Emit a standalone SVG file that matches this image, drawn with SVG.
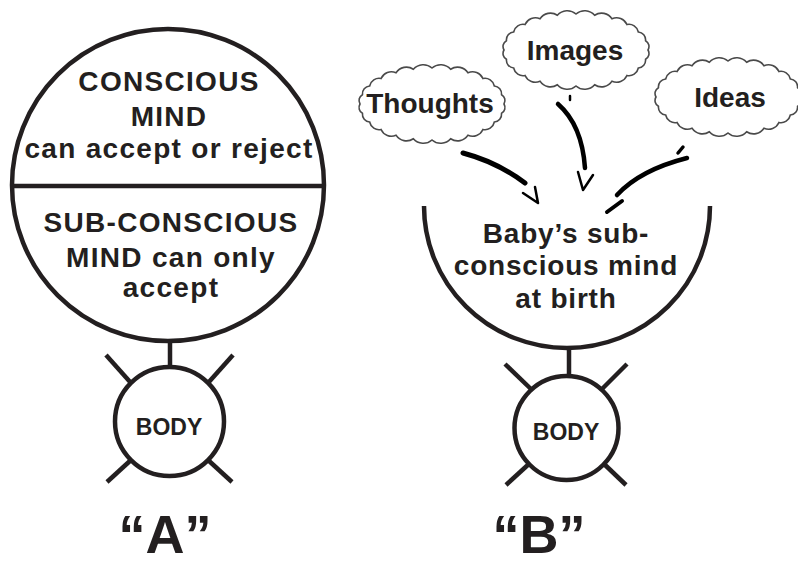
<svg xmlns="http://www.w3.org/2000/svg" width="798" height="565" viewBox="0 0 798 565">
<style>
.ln{fill:none;stroke:#231f20;stroke-width:4.5}
.t{font-family:"Liberation Sans",Arial,sans-serif;font-weight:bold;fill:#231f20;text-anchor:middle}
.mind{font-size:28px;letter-spacing:1.3px}
.baby{font-size:28px;letter-spacing:0.8px}
.cl{font-size:28px}
.body{font-size:23px}
.lab{font-size:54px}
.cloud{fill:#fff;stroke:#4a4a4a;stroke-width:1.6}
.br{fill:none;stroke:#000;stroke-linecap:round;stroke-linejoin:round}
</style>
<defs>
<path id="cloudShape" d="M72,0 A6.7,6.7 0 0 1 69.55,9.32 A7.9,7.9 0 0 1 62.35,18 A9.6,9.6 0 0 1 50.91,25.46 A11.2,11.2 0 0 1 36,31.18 A12.4,12.4 0 0 1 18.63,34.77 A13.1,13.1 0 0 1 0,36 A13.1,13.1 0 0 1 -18.63,34.77 A12.4,12.4 0 0 1 -36,31.18 A11.2,11.2 0 0 1 -50.91,25.46 A9.6,9.6 0 0 1 -62.35,18 A7.9,7.9 0 0 1 -69.55,9.32 A6.7,6.7 0 0 1 -72,0 A6.7,6.7 0 0 1 -69.55,-9.32 A7.9,7.9 0 0 1 -62.35,-18 A9.6,9.6 0 0 1 -50.91,-25.46 A11.2,11.2 0 0 1 -36,-31.18 A12.4,12.4 0 0 1 -18.63,-34.77 A13.1,13.1 0 0 1 0,-36 A13.1,13.1 0 0 1 18.63,-34.77 A12.4,12.4 0 0 1 36,-31.18 A11.2,11.2 0 0 1 50.91,-25.46 A9.6,9.6 0 0 1 62.35,-18 A7.9,7.9 0 0 1 69.55,-9.32 A6.7,6.7 0 0 1 72,0 Z"/>
</defs>
<rect width="798" height="565" fill="#fff"/>

<g id="mindA">
<circle class="ln" cx="168" cy="185" r="156"/>
<line class="ln" x1="12" y1="186" x2="324" y2="186"/>
<text class="t mind" x="169" y="91">CONSCIOUS</text>
<text class="t mind" x="169" y="126">MIND</text>
<text class="t mind" x="169" y="158">can accept or reject</text>
<text class="t mind" x="171" y="232">SUB-CONSCIOUS</text>
<text class="t mind" x="171" y="267">MIND can only</text>
<text class="t mind" x="171" y="297">accept</text>
</g>

<g id="bodyA">
<circle class="ln" cx="169.5" cy="421.5" r="54.5"/>
<line class="ln" x1="106" y1="355" x2="131" y2="383"/>
<line class="ln" x1="233" y1="355" x2="208" y2="383"/>
<line class="ln" x1="107" y1="482" x2="131" y2="460"/>
<line class="ln" x1="232" y1="482" x2="208" y2="460"/>
<text class="t body" x="169" y="435">BODY</text>
</g>

<g id="mindB">
<path class="ln" d="M424,206 A143,142 0 0 0 710,206"/>
<text class="t baby" x="566" y="243">Baby’s sub-</text>
<text class="t baby" x="566" y="275">conscious mind</text>
<text class="t baby" x="566" y="308">at birth</text>
</g>

<g id="bodyB">
<circle class="ln" cx="566.5" cy="428" r="52"/>
<line class="ln" x1="505" y1="364" x2="532" y2="390"/>
<line class="ln" x1="627" y1="364" x2="601" y2="390"/>
<line class="ln" x1="506" y1="485" x2="530" y2="463"/>
<line class="ln" x1="626" y1="485" x2="603" y2="463"/>
<text class="t body" x="566" y="440">BODY</text>
</g>

<g id="thoughts">
<use href="#cloudShape" class="cloud" transform="translate(432,104)"/>
<text class="t cl" x="430" y="113">Thoughts</text>
</g>
<g id="images">
<use href="#cloudShape" class="cloud" transform="translate(576,50)"/>
<text class="t cl" x="575" y="60">Images</text>
</g>
<g id="ideas">
<use href="#cloudShape" class="cloud" transform="translate(728,97)"/>
<text class="t cl" x="730" y="107">Ideas</text>
</g>

<g id="labelA"><text class="t lab" x="165" y="553">“A”</text></g>
<g id="labelB"><text class="t lab" x="539" y="553">“B”</text></g>

<g id="connectors">
<line class="ln" x1="170" y1="340" x2="170" y2="367"/>
<line class="ln" x1="569" y1="348" x2="569" y2="376"/>
<path class="br" stroke-width="5" d="M463,153 Q497,162 525,183"/>
<path class="br" stroke-width="2.5" d="M523,193 L538,203 L535,187"/>
<path class="br" stroke-width="2.5" d="M570,96 L570,100"/>
<path class="br" stroke-width="4.5" d="M558,104 Q582,125 585,168"/>
<path class="br" stroke-width="2.5" d="M578,172 L583,190 L593,175"/>
<path class="br" stroke-width="3.5" d="M683,147 L678,153"/>
<path class="br" stroke-width="4.5" d="M687,158 Q640,170 617,195"/>
<path class="br" stroke-width="4" d="M622,201 L607,212"/>
</g>
</svg>
